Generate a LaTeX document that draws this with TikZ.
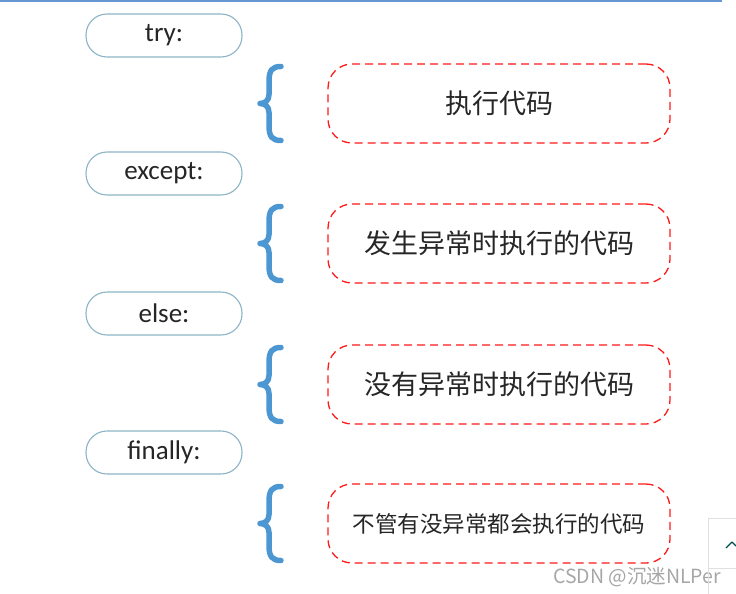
\documentclass[tikz,border=0pt]{standalone}
\usepackage{fontspec}
\setmainfont{Carlito}
\newfontfamily\cjk{Noto Sans CJK SC}
\begin{document}
\begin{tikzpicture}[x=1pt,y=-1pt,
  pill/.style={draw=blue!30!cyan!50!black!45, line width=1.1pt, rounded corners=21pt, minimum width=156pt, minimum height=43pt, font=\fontsize{27}{30}\selectfont, text=black!85},
  codebox/.style={draw=red!90!white, dashed, dash pattern=on 8pt off 5pt, line width=1.3pt, rounded corners=24pt, minimum width=342pt, minimum height=79pt, font=\cjk\fontsize{27}{30}\selectfont, text=black!85},
  bracepath/.style={draw=blue!45!cyan!75!black!70, line width=5.5pt, line cap=round, line join=round}]
\useasboundingbox (0,0) rectangle (736,594);
\draw[blue!55!cyan!70!black!60, line width=1.5pt] (0,1) -- (722,1);
\foreach \lab/\txt/\py/\by in {a/try:/35.5/103.5, b/except:/173.5/243.5, c/else:/313.5/384.5, d/finally:/452.5/523.5}{
  \node[pill] (k\lab) at (164,\py) {\txt};
  \begin{scope}[shift={(260,\by)}]
  \draw[bracepath] (21,-37) .. controls (12,-37) and (9,-33) .. (9,-22) -- (9,-9) .. controls (9,-3) and (5,0) .. (0,0) .. controls (5,0) and (9,3) .. (9,9) -- (9,22) .. controls (9,33) and (12,37) .. (21,37);
  \end{scope}
}
\node[codebox] (ca) at (499,103.5) {执行代码};
\node[codebox] (cb) at (499,243.5) {发生异常时执行的代码};
\node[codebox] (cc) at (499,384.5) {没有异常时执行的代码};
\node[codebox, font=\cjk\fontsize{22.5}{26}\selectfont] (cd) at (499,523.5) {不管有没异常都会执行的代码};
\node[font=\cjk\fontsize{19.5}{22}\selectfont, text=black!35] (wm) at (637,577) {CSDN @沉迷NLPer};
\draw[black!12] (708,594) -- (708,518) -- (736,518);
\draw[black!12] (708,568) -- (736,568);
\draw[teal!60!black, line width=1.2pt] (726,548) -- (732,542);
\draw[teal!60!black, line width=1.2pt] (732,542) -- (736,546);
\end{tikzpicture}
\end{document}
